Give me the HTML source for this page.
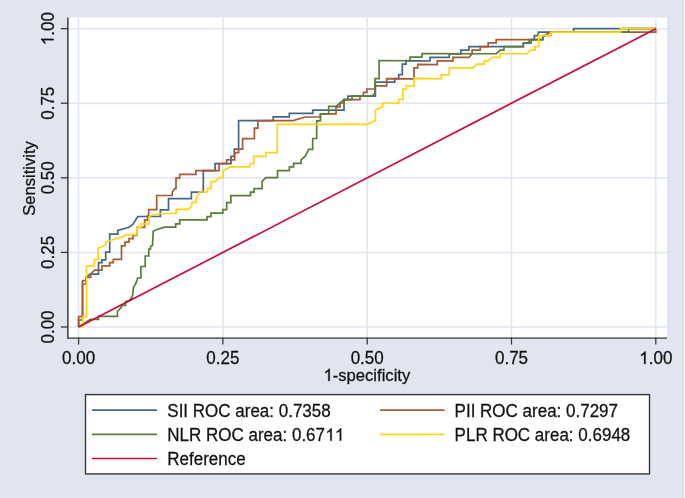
<!DOCTYPE html>
<html><head><meta charset="utf-8"><style>
html,body{margin:0;padding:0;background:#e1e5f0;}
svg{display:block;will-change:transform;}
text{font-kerning:none;}
.t{font-family:"Liberation Sans",sans-serif;font-size:17px;fill:#111;stroke:#111;stroke-width:0.25px;}
.l{font-family:"Liberation Sans",sans-serif;font-size:17px;fill:#111;stroke:#111;stroke-width:0.25px;}
.a{font-family:"Liberation Sans",sans-serif;font-size:16.6px;fill:#111;stroke:#111;stroke-width:0.25px;}
</style></head><body>
<svg width="685" height="498" viewBox="0 0 685 498">
<rect x="0" y="0" width="685" height="498" fill="#e1e5f0"/>
<rect x="683" y="0" width="1" height="498" fill="#dadee9"/>
<rect x="684" y="0" width="1" height="498" fill="#f5f6fa"/>
<rect x="68" y="17.5" width="599" height="320" fill="#ffffff"/>
<line x1="78.60" y1="18" x2="78.60" y2="337" stroke="#e1e5f0" stroke-width="1.5"/>
<line x1="222.90" y1="18" x2="222.90" y2="337" stroke="#e1e5f0" stroke-width="1.5"/>
<line x1="367.20" y1="18" x2="367.20" y2="337" stroke="#e1e5f0" stroke-width="1.5"/>
<line x1="511.50" y1="18" x2="511.50" y2="337" stroke="#e1e5f0" stroke-width="1.5"/>
<line x1="655.80" y1="18" x2="655.80" y2="337" stroke="#e1e5f0" stroke-width="1.5"/>
<line x1="68" y1="327.00" x2="667" y2="327.00" stroke="#e1e5f0" stroke-width="1.5"/>
<line x1="68" y1="252.41" x2="667" y2="252.41" stroke="#e1e5f0" stroke-width="1.5"/>
<line x1="68" y1="177.82" x2="667" y2="177.82" stroke="#e1e5f0" stroke-width="1.5"/>
<line x1="68" y1="103.24" x2="667" y2="103.24" stroke="#e1e5f0" stroke-width="1.5"/>
<line x1="68" y1="28.65" x2="667" y2="28.65" stroke="#e1e5f0" stroke-width="1.5"/>

<g fill="none" stroke-width="1.7" stroke-linejoin="miter">
<polyline points="78.60,327.00 78.60,320.00 82.50,320.00 82.50,284.00 86.20,284.00 86.20,277.50 90.00,274.20 98.50,274.20 98.50,262.70 102.00,262.70 102.00,259.80 105.70,259.80 105.70,252.20 109.70,252.20 109.70,234.20 117.80,234.20 117.80,230.50 129.00,227.30 133.00,224.10 137.80,216.50 160.40,216.50 160.40,209.80 168.50,209.80 168.50,198.70 191.40,198.70 191.40,192.10 203.30,192.10 203.30,170.60 215.10,170.60 215.10,163.60 231.00,163.60 231.00,156.30 234.30,156.30 234.30,149.20 238.60,149.20 238.60,120.60 273.20,120.60 273.20,116.90 289.30,116.90 289.30,113.30 312.70,113.30 312.70,110.10 344.00,110.10 344.00,99.60 348.00,99.60 348.00,96.10 375.40,96.10 375.40,82.10 394.70,82.10 394.70,78.60 398.70,78.60 398.70,74.50 402.30,74.53 402.30,64.13 406.00,64.18 406.00,60.68 430.00,60.99 430.00,57.29 449.30,57.35 449.30,53.85 460.90,53.85 460.90,50.15 468.90,50.15 468.90,46.65 523.30,46.65 523.30,43.15 527.60,43.15 530.70,39.70 534.30,39.70 534.30,35.60 538.30,35.57 538.30,32.20 573.60,32.20 573.60,28.65 655.80,28.65" stroke="#426886"/>
<polyline points="78.60,327.00 78.60,316.60 82.50,316.60 82.50,280.60 86.00,280.60 86.00,277.40 90.70,277.40 90.70,274.00 94.60,270.20 102.00,270.20 102.00,265.90 109.70,265.90 109.70,262.70 113.30,262.70 113.30,259.40 121.50,259.40 121.50,245.80 125.00,245.80 125.00,242.10 129.00,242.10 129.00,238.60 133.00,238.60 133.00,235.30 136.90,235.30 136.90,227.30 144.60,227.30 144.60,220.10 147.60,220.10 147.60,216.00 148.60,216.00 148.60,209.60 156.70,209.60 156.70,195.50 172.20,195.50 172.20,192.10 174.90,188.60 176.00,188.60 176.00,178.10 179.70,178.10 179.70,174.40 195.80,174.40 195.80,170.60 219.10,170.60 219.10,163.60 226.60,163.60 226.60,159.90 234.70,159.90 234.70,152.70 238.60,152.70 238.60,149.20 242.60,149.20 242.60,138.60 254.40,138.60 254.40,128.10 257.90,128.10 257.90,120.60 293.30,120.60 305.00,117.00 320.40,117.00 320.40,113.80 336.00,113.80 336.00,106.90 340.00,106.90 340.00,103.00 344.00,103.00 344.00,99.60 360.00,99.60 360.00,96.10 363.30,96.10 363.30,92.40 366.90,92.40 366.90,89.00 375.00,89.00 375.00,85.80 386.70,85.80 386.70,78.60 414.00,78.78 414.00,67.78 417.70,67.83 417.70,64.33 437.30,64.55 437.30,60.95 452.90,60.95 452.90,57.45 468.90,57.45 472.10,53.85 472.10,50.15 480.20,50.15 480.20,46.65 488.20,46.65 488.20,42.95 496.20,42.95 496.20,39.60 543.00,39.54 543.00,37.14 549.60,32.20 655.80,32.20 655.80,28.65" stroke="#a85a35"/>
<polyline points="78.60,327.00 90.40,319.40 98.60,319.40 98.60,316.40 117.40,316.40 117.40,311.50 121.20,307.50 121.60,305.30 125.50,305.30 125.50,301.60 129.30,300.60 131.90,297.10 132.70,294.70 133.50,287.40 135.90,283.40 137.20,279.50 137.50,278.00 140.90,278.00 140.90,266.50 145.20,266.50 145.20,256.00 148.80,256.00 148.80,249.00 150.50,249.00 150.50,246.60 152.50,245.50 153.20,231.30 155.60,230.00 164.50,227.10 175.70,227.10 175.70,223.90 179.70,223.90 179.70,219.90 207.00,219.90 207.00,216.70 211.00,216.70 211.00,213.20 222.80,213.20 222.80,209.70 226.70,209.70 226.70,202.60 230.90,202.60 230.90,195.60 250.50,195.60 250.50,192.10 254.10,192.10 254.10,188.60 262.10,188.60 262.10,181.30 265.80,177.60 277.50,177.60 277.50,170.60 289.40,170.60 289.40,166.90 293.60,166.90 293.60,163.40 301.10,163.40 301.10,159.90 305.40,155.90 308.70,149.40 312.70,149.40 312.70,138.50 316.70,138.50 316.70,120.80 320.40,120.80 320.40,113.80 328.70,113.80 328.70,106.40 336.00,106.40 344.00,99.60 352.00,99.60 352.00,96.10 372.20,96.10 375.00,93.00 375.00,78.60 379.10,78.60 379.10,60.60 410.00,60.73 410.00,57.03 422.00,57.18 422.00,53.58 496.20,53.75 500.20,50.15 503.90,50.15 503.90,46.65 523.30,46.65 523.30,43.15 531.10,43.15 531.10,39.70 542.80,39.64 542.80,35.54 550.80,35.47 550.80,32.20 628.60,32.20 628.60,28.65 655.80,28.65" stroke="#5a7d37"/>
<polyline points="78.60,327.00 82.80,326.75 82.80,316.60 86.50,316.60 86.50,266.20 94.40,266.20 94.40,259.40 98.20,259.40 98.20,248.20 105.70,245.00 105.70,242.10 118.60,237.80 122.60,237.00 125.80,234.50 136.90,234.60 136.90,227.40 141.30,227.40 141.30,223.80 149.10,223.80 149.10,216.90 150.00,216.00 160.40,213.50 176.10,213.50 176.10,209.40 188.00,209.40 191.70,206.10 191.70,202.30 196.00,202.30 196.00,199.50 199.30,192.00 207.60,192.00 207.60,188.40 211.10,188.40 211.10,181.60 215.10,181.60 219.10,177.60 223.10,177.60 223.10,170.80 230.40,166.90 249.90,166.90 249.90,163.50 253.90,163.50 253.90,156.30 265.80,156.30 265.80,152.60 277.30,152.60 277.30,124.30 367.30,124.30 375.40,120.50 375.40,109.90 382.70,106.70 382.70,103.00 398.70,103.00 398.70,99.40 402.80,99.44 402.80,89.04 406.40,89.08 406.40,85.88 414.00,85.98 414.00,78.38 441.30,78.65 441.30,74.95 449.30,74.95 449.30,67.85 472.90,67.85 477.00,64.15 484.20,64.15 484.20,60.95 488.20,60.95 492.20,57.45 500.20,57.45 500.20,53.75 527.10,53.75 530.70,49.95 535.10,49.95 535.10,46.75 538.70,46.68 538.70,35.57 550.80,35.47 550.80,32.20 620.50,32.20 620.50,28.65 655.80,28.65" stroke="#ffd414"/>
<line x1="78.6" y1="327.0" x2="655.8" y2="28.65" stroke="#c80c3c"/>
</g>
<line x1="67.9" y1="17.5" x2="67.9" y2="338.5" stroke="#3a3a3a" stroke-width="1.5"/>
<line x1="67.2" y1="338.0" x2="667" y2="338.0" stroke="#3a3a3a" stroke-width="1.25"/>
<line x1="78.60" y1="337.5" x2="78.60" y2="344.6" stroke="#3a3a3a" stroke-width="1.3"/>
<text transform="translate(78.60,364) scale(1,1.03)" text-anchor="middle" class="t">0.00</text>
<line x1="222.90" y1="337.5" x2="222.90" y2="344.6" stroke="#3a3a3a" stroke-width="1.3"/>
<text transform="translate(222.90,364) scale(1,1.03)" text-anchor="middle" class="t">0.25</text>
<line x1="367.20" y1="337.5" x2="367.20" y2="344.6" stroke="#3a3a3a" stroke-width="1.3"/>
<text transform="translate(367.20,364) scale(1,1.03)" text-anchor="middle" class="t">0.50</text>
<line x1="511.50" y1="337.5" x2="511.50" y2="344.6" stroke="#3a3a3a" stroke-width="1.3"/>
<text transform="translate(511.50,364) scale(1,1.03)" text-anchor="middle" class="t">0.75</text>
<line x1="655.80" y1="337.5" x2="655.80" y2="344.6" stroke="#3a3a3a" stroke-width="1.3"/>
<text transform="translate(655.80,364) scale(1,1.03)" text-anchor="middle" class="t"><tspan style="fill:none;stroke:none">1</tspan>.00</text>
<path transform="translate(655.80,364) scale(1,1.03) translate(-16.539,0) scale(0.008301,-0.008301)" d="M763 0H583V1147C539 1105 481 1063 409 1021C338 979 274 947 217 926V1100C319 1148 408 1206 484 1274C560 1342 614 1408 645 1466H763Z" fill="#111" stroke="#111" stroke-width="30.1"/>
<line x1="60.85" y1="327.00" x2="68" y2="327.00" stroke="#3a3a3a" stroke-width="1.3"/>
<text transform="translate(53.6,327.00) rotate(-90) scale(1,1.03)" text-anchor="middle" class="t">0.00</text>
<line x1="60.85" y1="252.41" x2="68" y2="252.41" stroke="#3a3a3a" stroke-width="1.3"/>
<text transform="translate(53.6,252.41) rotate(-90) scale(1,1.03)" text-anchor="middle" class="t">0.25</text>
<line x1="60.85" y1="177.82" x2="68" y2="177.82" stroke="#3a3a3a" stroke-width="1.3"/>
<text transform="translate(53.6,177.82) rotate(-90) scale(1,1.03)" text-anchor="middle" class="t">0.50</text>
<line x1="60.85" y1="103.24" x2="68" y2="103.24" stroke="#3a3a3a" stroke-width="1.3"/>
<text transform="translate(53.6,103.24) rotate(-90) scale(1,1.03)" text-anchor="middle" class="t">0.75</text>
<line x1="60.85" y1="28.65" x2="68" y2="28.65" stroke="#3a3a3a" stroke-width="1.3"/>
<text transform="translate(53.6,28.65) rotate(-90) scale(1,1.03)" text-anchor="middle" class="t"><tspan style="fill:none;stroke:none">1</tspan>.00</text>
<path transform="translate(53.6,28.65) rotate(-90) scale(1,1.03) translate(-16.539,0) scale(0.008301,-0.008301)" d="M763 0H583V1147C539 1105 481 1063 409 1021C338 979 274 947 217 926V1100C319 1148 408 1206 484 1274C560 1342 614 1408 645 1466H763Z" fill="#111" stroke="#111" stroke-width="30.1"/>

<text transform="translate(34.9,178.5) rotate(-90) scale(1,1.03)" text-anchor="middle" class="a">Sensitivity</text>
<text transform="translate(366.9,380.9) scale(1,1.03)" text-anchor="middle" class="a"><tspan style="fill:none;stroke:none">1</tspan>-specificity</text>
<path transform="translate(366.9,380.9) scale(1,1.03) translate(-43.345,0) scale(0.008105,-0.008105)" d="M763 0H583V1147C539 1105 481 1063 409 1021C338 979 274 947 217 926V1100C319 1148 408 1206 484 1274C560 1342 614 1408 645 1466H763Z" fill="#111" stroke="#111" stroke-width="30.8"/>
<rect x="85.5" y="394.6" width="564" height="79.3" fill="#ffffff" stroke="#333" stroke-width="1.35"/>
<g stroke-width="1.6">
<line x1="92" y1="410.1" x2="157" y2="410.1" stroke="#426886"/>
<line x1="92" y1="434.35" x2="157" y2="434.35" stroke="#5a7d37"/>
<line x1="92" y1="458.45" x2="157" y2="458.45" stroke="#c80c3c"/>
<line x1="380" y1="410.1" x2="444.5" y2="410.1" stroke="#a85a35"/>
<line x1="380" y1="434.35" x2="444.5" y2="434.35" stroke="#ffd414"/>
</g>
<text transform="translate(167.3,416.5) scale(1,1.03)" class="l">SII ROC area: 0.7358</text>
<text transform="translate(167.3,440.8) scale(1,1.03)" class="l">NLR ROC area: 0.67<tspan style="fill:none;stroke:none">1</tspan><tspan style="fill:none;stroke:none">1</tspan></text>
<path transform="translate(167.3,440.8) scale(1,1.03) translate(158.100,0) scale(0.008301,-0.008301)" d="M763 0H583V1147C539 1105 481 1063 409 1021C338 979 274 947 217 926V1100C319 1148 408 1206 484 1274C560 1342 614 1408 645 1466H763Z" fill="#111" stroke="#111" stroke-width="30.1"/>
<path transform="translate(167.3,440.8) scale(1,1.03) translate(167.600,0) scale(0.008301,-0.008301)" d="M763 0H583V1147C539 1105 481 1063 409 1021C338 979 274 947 217 926V1100C319 1148 408 1206 484 1274C560 1342 614 1408 645 1466H763Z" fill="#111" stroke="#111" stroke-width="30.1"/>
<text transform="translate(167.3,465.1) scale(1,1.03)" class="l">Reference</text>
<text transform="translate(454.6,416.5) scale(1,1.03)" class="l">PII ROC area: 0.7297</text>
<text transform="translate(454.6,440.8) scale(1,1.03)" class="l">PLR ROC area: 0.6948</text>
</svg>
</body></html>
